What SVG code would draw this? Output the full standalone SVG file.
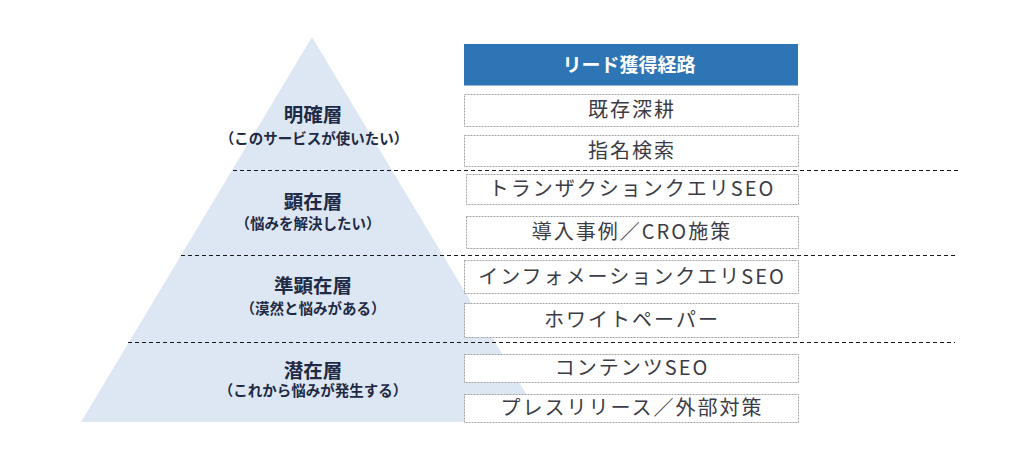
<svg xmlns="http://www.w3.org/2000/svg" width="1032" height="451" viewBox="0 0 1032 451">
<style>
.bg{fill:#ffffff}
.pyr{fill:#dde7f4}
.sep{stroke:#1a1a1a;stroke-width:1;stroke-dasharray:4 3;fill:none}
.box{fill:#ffffff;stroke:#8a8a8a;stroke-width:0.8;stroke-dasharray:2 1}
.hdr{fill:#2e75b6}
.ht{font-family:"Noto Sans CJK JP","Noto Sans CJK SC",sans-serif;font-weight:700;font-size:19px;fill:#ffffff;text-anchor:middle}
.bt{font-family:"Noto Sans CJK JP","Noto Sans CJK SC",sans-serif;font-size:20px;letter-spacing:2px;fill:#3c3c46;text-anchor:middle}
.lt{font-family:"Noto Sans CJK JP","Noto Sans CJK SC",sans-serif;font-weight:700;font-size:19.5px;fill:#1f2a44;text-anchor:middle}
.st{font-family:"Noto Sans CJK JP","Noto Sans CJK SC",sans-serif;font-weight:700;font-size:14.5px;fill:#1f2a44;text-anchor:middle}
</style>
<rect class="bg" x="0" y="0" width="1032" height="451"/>
<g id="pyramid">
<polygon class="pyr" points="312,37 81,422 543,422"/>
</g>
<g id="connectors">
<line class="sep" x1="233" y1="170.5" x2="958" y2="170.5"/>
<line class="sep" x1="181" y1="255.5" x2="958" y2="255.5"/>
<line class="sep" x1="128" y1="342.5" x2="955" y2="342.5"/>
</g>
<g id="layer-meikaku">
<text class="lt" x="313" y="122">明確層</text>
<text class="st" x="314" y="144">（このサービスが使いたい）</text>
</g>
<g id="layer-kenzai">
<text class="lt" x="313" y="209">顕在層</text>
<text class="st" x="308" y="229">（悩みを解決したい）</text>
</g>
<g id="layer-junkenzai">
<text class="lt" x="313" y="293">準顕在層</text>
<text class="st" x="313" y="314">（漠然と悩みがある）</text>
</g>
<g id="layer-senzai">
<text class="lt" x="313" y="378">潜在層</text>
<text class="st" x="313" y="396">（これから悩みが発生する）</text>
</g>
<g id="header">
<rect class="hdr" x="464" y="44" width="334" height="41.5"/>
<text class="ht" x="629" y="72">リード獲得経路</text>
</g>
<g id="box-kizon">
<rect class="box" x="464.5" y="94.5" width="334" height="32"/>
<text class="bt" x="632" y="117">既存深耕</text>
</g>
<g id="box-shimei">
<rect class="box" x="464.5" y="135.5" width="334" height="31"/>
<text class="bt" x="632" y="158">指名検索</text>
</g>
<g id="box-transaction">
<rect class="box" x="466.5" y="174.5" width="332" height="30"/>
<text class="bt" x="632" y="196">トランザクションクエリSEO</text>
</g>
<g id="box-case">
<rect class="box" x="466.5" y="216.5" width="332" height="32"/>
<text class="bt" x="632" y="239">導入事例／CRO施策</text>
</g>
<g id="box-information">
<rect class="box" x="464.5" y="260.5" width="334" height="33"/>
<text class="bt" x="632" y="284">インフォメーションクエリSEO</text>
</g>
<g id="box-whitepaper">
<rect class="box" x="464.5" y="303.5" width="334" height="34"/>
<text class="bt" x="632" y="327">ホワイトペーパー</text>
</g>
<g id="box-content">
<rect class="box" x="464.5" y="354.5" width="334" height="28"/>
<text class="bt" x="632" y="375">コンテンツSEO</text>
</g>
<g id="box-press">
<rect class="box" x="464.5" y="394.5" width="334" height="28"/>
<text class="bt" x="632" y="415">プレスリリース／外部対策</text>
</g>
</svg>
